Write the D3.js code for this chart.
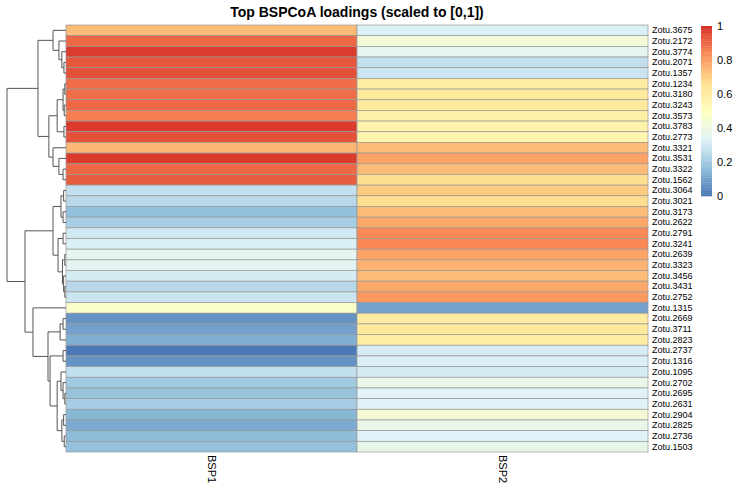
<!DOCTYPE html>
<html>
<head>
<meta charset="utf-8">
<script src="https://cdn.jsdelivr.net/npm/d3@7"></script>
<style>
    body { margin: 0; background: #fff; }
    svg { display: block; font-family: "Liberation Sans", Arial, sans-serif; }
</style>
</head>
<body>
<svg id="chart" width="740" height="491"></svg>
<script>
// Row order (as clustered), columns and scaled loadings
const rows = ["Zotu.3675", "Zotu.2172", "Zotu.3774", "Zotu.2071", "Zotu.1357", "Zotu.1234", "Zotu.3180", "Zotu.3243",
    "Zotu.3573", "Zotu.3783", "Zotu.2773", "Zotu.3321", "Zotu.3531", "Zotu.3322", "Zotu.1562", "Zotu.3064",
    "Zotu.3021", "Zotu.3173", "Zotu.2622", "Zotu.2791", "Zotu.3241", "Zotu.2639", "Zotu.3323", "Zotu.3456",
    "Zotu.3431", "Zotu.2752", "Zotu.1315", "Zotu.2669", "Zotu.3711", "Zotu.2823", "Zotu.2737", "Zotu.1316",
    "Zotu.1095", "Zotu.2702", "Zotu.2695", "Zotu.2631", "Zotu.2904", "Zotu.2825", "Zotu.2736", "Zotu.1503"];
const columns = ["BSP1", "BSP2"];

const bsp1 = [0.74, 0.9, 0.98, 0.93, 0.94, 0.89, 0.89, 0.9, 0.86, 0.98, 0.94, 0.75, 0.98, 0.9, 0.92, 0.27,
    0.25, 0.17, 0.21, 0.3, 0.32, 0.36, 0.35, 0.31, 0.25, 0.29, 0.47, 0.07, 0.1, 0.13, 0.01, 0.07,
    0.27, 0.2, 0.18, 0.21, 0.15, 0.12, 0.16, 0.17];
const bsp2 = [0.32, 0.43, 0.36, 0.27, 0.29, 0.6, 0.62, 0.62, 0.58, 0.57, 0.56, 0.74, 0.79, 0.74, 0.67, 0.71,
    0.67, 0.74, 0.78, 0.84, 0.84, 0.79, 0.76, 0.74, 0.78, 0.81, 0.1, 0.6, 0.62, 0.6, 0.31, 0.32,
    0.31, 0.38, 0.34, 0.33, 0.44, 0.38, 0.33, 0.37];

const legendTicks = [0, 0.2, 0.4, 0.6, 0.8, 1];
const paletteStops = ["#4575B4", "#91BFDB", "#E0F3F8", "#FFFFBF", "#FEE090", "#FC8D59", "#D73027"];

// Row dendrogram: leaves are row names, h = merge height (root = 1)
const rowTree = { h: 1, c: [
    { h: 0.475, c: [
        { h: 0.22, c: ["Zotu.3675",
            { h: 0.12, c: ["Zotu.2172",
                { h: 0.07, c: ["Zotu.3774", { h: 0.035, c: ["Zotu.2071", "Zotu.1357"] }] }] }] },
        { h: 0.29, c: [
            { h: 0.15, c: [
                { h: 0.05, c: [{ h: 0.02, c: ["Zotu.1234", "Zotu.3180"] }, { h: 0.03, c: ["Zotu.3243", "Zotu.3573"] }] },
                { h: 0.035, c: ["Zotu.3783", "Zotu.2773"] }] },
            { h: 0.22, c: ["Zotu.3321",
                { h: 0.12, c: ["Zotu.3531", { h: 0.05, c: ["Zotu.3322", "Zotu.1562"] }] }] }] }] },
    { h: 0.695, c: [
        { h: 0.22, c: [
            { h: 0.085, c: [{ h: 0.04, c: ["Zotu.3064", "Zotu.3021"] }, { h: 0.05, c: ["Zotu.3173", "Zotu.2622"] }] },
            { h: 0.135, c: [
                { h: 0.05, c: ["Zotu.2791", "Zotu.3241"] },
                { h: 0.06, c: [{ h: 0.02, c: ["Zotu.2639", "Zotu.3323"] },
                    { h: 0.04, c: ["Zotu.3456", { h: 0.02, c: ["Zotu.3431", "Zotu.2752"] }] }] }] }] },
        { h: 0.56, c: ["Zotu.1315",
            { h: 0.305, c: [
                { h: 0.1, c: [{ h: 0.05, c: ["Zotu.2669", "Zotu.3711"] }, "Zotu.2823"] },
                { h: 0.27, c: [
                    { h: 0.05, c: ["Zotu.2737", "Zotu.1316"] },
                    { h: 0.15, c: [
                        { h: 0.085, c: ["Zotu.1095", { h: 0.05, c: ["Zotu.2702", { h: 0.02, c: ["Zotu.2695", "Zotu.2631"] }] }] },
                        { h: 0.07, c: [{ h: 0.04, c: ["Zotu.2904", "Zotu.2825"] }, { h: 0.03, c: ["Zotu.2736", "Zotu.1503"] }] }] }] }] }] }] }] };

const svg = d3.select("#chart");

const heat = { left: 66, right: 648, top: 25, bottom: 452 };

const x = d3.scaleBand().domain(columns).range([heat.left, heat.right]);
const y = d3.scaleBand().domain(rows).range([heat.top, heat.bottom]);
const color = d3.scaleLinear()
    .domain(paletteStops.map((d, i) => i / (paletteStops.length - 1)))
    .range(paletteStops)
    .interpolate(d3.interpolateRgb);

// Title
svg.append("text")
    .attr("x", (heat.left + heat.right) / 2)
    .attr("y", 17)
    .attr("text-anchor", "middle")
    .attr("font-size", 14)
    .attr("font-weight", "bold")
    .text("Top BSPCoA loadings (scaled to [0,1])");

// Heatmap cells
const cells = [];
rows.forEach((r, i) => {
    cells.push({ row: r, col: "BSP1", v: bsp1[i] });
    cells.push({ row: r, col: "BSP2", v: bsp2[i] });
});

svg.append("g")
    .selectAll("rect")
    .data(cells)
    .join("rect")
    .attr("x", (d) => x(d.col))
    .attr("y", (d) => y(d.row))
    .attr("width", x.bandwidth())
    .attr("height", y.bandwidth())
    .attr("fill", (d) => color(d.v))
    .attr("stroke", "#999")
    .attr("stroke-width", 0.7);

// Row labels
const rowAxis = d3.axisRight(y).tickSize(0).tickPadding(4);
const rowG = svg.append("g")
    .attr("transform", `translate(${heat.right},0)`)
    .call(rowAxis);
rowG.select(".domain").remove();
rowG.selectAll("text")
    .attr("font-size", 9)
    .attr("font-family", "Liberation Sans, Arial, sans-serif")
    .attr("fill", "#000");

// Column labels, rotated
const colAxis = d3.axisBottom(x).tickSize(0).tickPadding(0);
const colG = svg.append("g")
    .attr("transform", `translate(0,${heat.bottom})`)
    .call(colAxis);
colG.select(".domain").remove();
colG.selectAll("text")
    .attr("font-size", 11)
    .attr("font-family", "Liberation Sans, Arial, sans-serif")
    .attr("fill", "#000")
    .attr("text-anchor", "start")
    .attr("dy", "0.35em")
    .attr("transform", "translate(0,3) rotate(90)");

// Dendrogram
const hx = d3.scaleLinear().domain([0, 1]).range([heat.left, 7]);
const links = [];

function layout(node) {
    if (typeof node === "string") {
        return { x: heat.left, y: y(node) + y.bandwidth() / 2 };
    }
    const kids = node.c.map(layout);
    const nx = hx(node.h);
    const ny = d3.mean(kids, (k) => k.y);
    links.push([[nx, kids[0].y], [nx, kids[1].y]]);
    kids.forEach((k) => links.push([[nx, k.y], [k.x, k.y]]));
    return { x: nx, y: ny };
}
layout(rowTree);

svg.append("g")
    .selectAll("path")
    .data(links)
    .join("path")
    .attr("d", d3.line())
    .attr("fill", "none")
    .attr("stroke", "#555")
    .attr("stroke-width", 1);

// Colour legend
const ly = d3.scaleLinear().domain([0, 1]).range([196, 26]);
const steps = d3.range(100).map((i) => i / 100);
const legend = svg.append("g");
legend.selectAll("rect")
    .data(steps)
    .join("rect")
    .attr("x", 701)
    .attr("y", (d) => ly(d + 0.01))
    .attr("width", 11)
    .attr("height", (d) => ly(d) - ly(d + 0.01) + 0.3)
    .attr("fill", (d) => color(d + 0.005));

const legendAxis = d3.axisRight(ly).tickValues(legendTicks).tickSize(0).tickPadding(5)
    .tickFormat((d) => d3.format("")(d));
const lg = svg.append("g")
    .attr("transform", "translate(712,0)")
    .call(legendAxis);
lg.select(".domain").remove();
lg.selectAll("text")
    .attr("font-size", 11)
    .attr("font-family", "Liberation Sans, Arial, sans-serif")
    .attr("fill", "#000");
</script>
</body>
</html>
